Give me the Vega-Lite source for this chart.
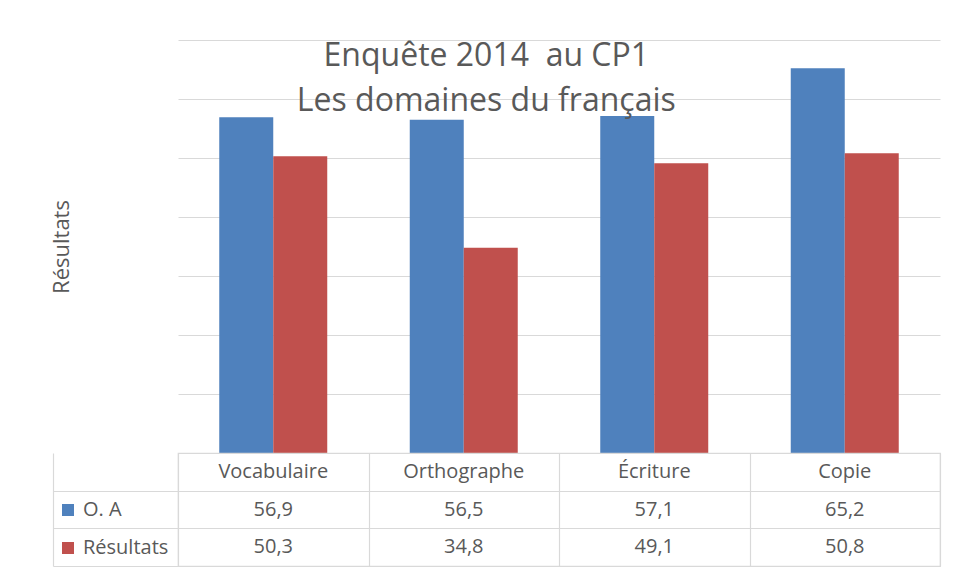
{
  "$schema": "https://vega.github.io/schema/vega-lite/v6.json",
  "background": "white",
  "padding": {"left": 50, "top": 40, "right": 10, "bottom": 5},
  "bounds": "flush",
  "spacing": 0,
  "config": {
    "font": "Open Sans",
    "locale": {"number": {"decimal": ",", "thousands": " ", "grouping": [3], "currency": ["", " €"]}},
    "view": {"stroke": null},
    "axis": {"gridColor": "#D9D9D9", "gridWidth": 1.2}
  },
  "datasets": {
    "resultats": [
      {"domaine": "Vocabulaire", "serie": "O. A", "valeur": 56.9},
      {"domaine": "Orthographe", "serie": "O. A", "valeur": 56.5},
      {"domaine": "Écriture", "serie": "O. A", "valeur": 57.1},
      {"domaine": "Copie", "serie": "O. A", "valeur": 65.2},
      {"domaine": "Vocabulaire", "serie": "Résultats", "valeur": 50.3},
      {"domaine": "Orthographe", "serie": "Résultats", "valeur": 34.8},
      {"domaine": "Écriture", "serie": "Résultats", "valeur": 49.1},
      {"domaine": "Copie", "serie": "Résultats", "valeur": 50.8}
    ]
  },
  "title": {
    "text": ["Enquête 2014\u00a0 au CP1", "Les domaines du français"],
    "fontSize": 32,
    "fontWeight": "normal",
    "color": "#595959",
    "lineHeight": 45,
    "anchor": "middle",
    "offset": -78,
    "dx": -9
  },
  "vconcat": [
    {
      "width": 762,
      "height": 413,
      "data": {"name": "resultats"},
      "mark": {"type": "bar"},
      "encoding": {
        "x": {
          "field": "domaine", "type": "nominal",
          "sort": ["Vocabulaire", "Orthographe", "Écriture", "Copie"],
          "scale": {"paddingInner": 0, "paddingOuter": 0},
          "axis": null
        },
        "xOffset": {
          "field": "serie", "type": "nominal",
          "sort": ["O. A", "Résultats"],
          "scale": {"paddingInner": 0, "paddingOuter": 0.764}
        },
        "y": {
          "field": "valeur", "type": "quantitative",
          "scale": {"domain": [0, 70], "nice": false},
          "axis": {
            "values": [0, 10, 20, 30, 40, 50, 60, 70],
            "labels": false, "ticks": false, "domain": false, "grid": true,
            "title": "Résultats", "titleFontSize": 22, "titleFontWeight": "normal",
            "titleColor": "#595959", "titlePadding": 105
          }
        },
        "color": {
          "field": "serie", "type": "nominal",
          "scale": {"domain": ["O. A", "Résultats"], "range": ["#4F81BD", "#C0504D"]},
          "legend": {
            "orient": "none", "legendX": -120, "legendY": 460,
            "title": null, "symbolType": "square", "symbolSize": 144,
            "symbolStrokeWidth": 0, "labelFontSize": 20, "labelColor": "#595959",
            "labelOffset": 5, "rowPadding": 18, "padding": 0
          }
        }
      }
    },
    {
      "width": 762,
      "height": 113,
      "view": {"stroke": "#D9D9D9", "strokeWidth": 1.2},
      "data": {"name": "resultats"},
      "encoding": {
        "x": {
          "field": "domaine", "type": "nominal",
          "sort": ["Vocabulaire", "Orthographe", "Écriture", "Copie"],
          "scale": {"paddingInner": 0, "paddingOuter": 0},
          "axis": {"labels": false, "ticks": false, "domain": false, "grid": true, "tickBand": "extent", "title": null}
        }
      },
      "layer": [
        {
          "transform": [{"filter": "datum.serie === 'O. A'"}],
          "mark": {"type": "text", "fontSize": 20, "color": "#595959"},
          "encoding": {
            "y": {
              "datum": "entete", "type": "nominal",
              "scale": {"domain": ["entete", "O. A", "Résultats"], "paddingInner": 0, "paddingOuter": 0},
              "axis": {
                "values": ["O. A", "Résultats"],
                "labels": false, "grid": true, "tickBand": "extent", "ticks": true,
                "tickSize": -125, "tickColor": "#D9D9D9", "tickWidth": 1.2,
                "offset": 125, "domain": true, "domainColor": "#D9D9D9", "domainWidth": 1.2,
                "title": null
              }
            },
            "text": {"field": "domaine"}
          }
        },
        {
          "mark": {"type": "text", "fontSize": 20, "color": "#595959"},
          "encoding": {
            "y": {"field": "serie", "type": "nominal"},
            "text": {"field": "valeur", "type": "quantitative", "format": ".1f"}
          }
        }
      ]
    }
  ]
}
